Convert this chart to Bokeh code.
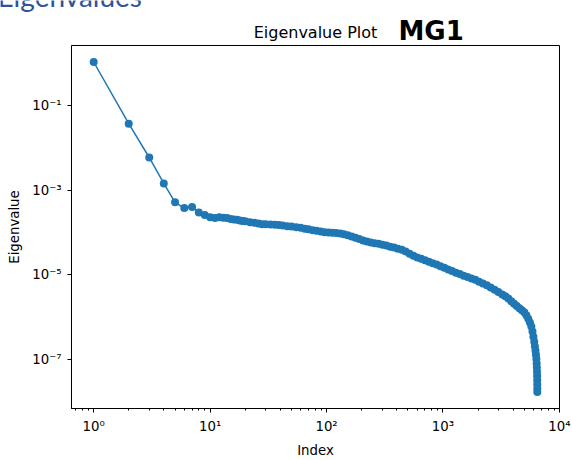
import numpy as np
from bokeh.plotting import figure
from bokeh.layouts import column
from bokeh.models import Range1d, FixedTicker, CustomJSTickFormatter
from bokeh.core.properties import value
from bokeh.embed import file_html
from bokeh.resources import INLINE

# ---- data ----
index = [1, 2, 3, 4, 5, 6, 7, 8, 9, 10, 11, 12, 13, 14, 15, 16, 17, 18, 19, 20,
         22, 24, 26, 28, 30, 33, 36, 39, 42, 46, 50, 55, 60, 65, 70, 76, 82, 89, 96,
         104, 112, 121, 131, 141, 152, 164, 177, 191, 206, 222, 240, 259, 280, 302,
         326, 352, 380, 410, 443, 478, 516, 557, 601, 649, 700, 756, 816, 881, 951,
         1027, 1108, 1196, 1291, 1394, 1504, 1624, 1753, 1892, 2042, 2204, 2379, 2568,
         2772, 2992, 3230, 3430, 3640, 3860, 4080, 4300, 4530, 4760, 4990, 5200, 5400,
         5580, 5740, 5870, 5980, 6080, 6160, 6230, 6290, 6340, 6375, 6400, 6420, 6435,
         6445, 6452, 6457, 6460]
eigenvalue = [1.10, 0.038, 0.0060, 0.00146, 5.2e-4, 3.8e-4, 4.0e-4, 3.0e-4, 2.6e-4,
              2.3e-4, 2.2e-4, 2.3e-4, 2.25e-4, 2.2e-4, 2.1e-4, 2.04e-4, 2.0e-4, 1.93e-4,
              1.88e-4, 1.84e-4, 1.76e-4, 1.70e-4, 1.64e-4, 1.58e-4, 1.57e-4, 1.55e-4,
              1.53e-4, 1.51e-4, 1.46e-4, 1.41e-4, 1.38e-4, 1.33e-4, 1.29e-4, 1.23e-4,
              1.19e-4, 1.135e-4, 1.10e-4, 1.06e-4, 1.02e-4, 1.0e-4, 9.9e-5, 9.8e-5,
              9.5e-5, 9.1e-5, 8.6e-5, 8.1e-5, 7.5e-5, 7.0e-5, 6.45e-5, 6.1e-5, 5.8e-5,
              5.6e-5, 5.4e-5, 5.1e-5, 4.9e-5, 4.6e-5, 4.4e-5, 4.1e-5, 3.9e-5, 3.55e-5,
              3.16e-5, 2.8e-5, 2.57e-5, 2.4e-5, 2.2e-5, 2.04e-5, 1.88e-5, 1.74e-5,
              1.58e-5, 1.46e-5, 1.33e-5, 1.22e-5, 1.12e-5, 1.035e-5, 9.5e-6, 8.8e-6,
              8.1e-6, 7.6e-6, 6.8e-6, 6.2e-6, 5.6e-6, 5.0e-6, 4.4e-6, 3.9e-6, 3.4e-6,
              3.1e-6, 2.72e-6, 2.34e-6, 2.04e-6, 1.82e-6, 1.6e-6, 1.43e-6, 1.29e-6,
              1.1e-6, 9.1e-7, 7.4e-7, 5.9e-7, 4.5e-7, 3.4e-7, 2.57e-7, 2.0e-7, 1.58e-7,
              1.26e-7, 1.0e-7, 7.9e-8, 6.3e-8, 5.0e-8, 4.0e-8, 3.16e-8, 2.5e-8, 2.0e-8,
              1.66e-8]

x_major_ticks = [1, 10, 100, 1000, 10000]
y_major_ticks = [1e-1, 1e-3, 1e-5, 1e-7]

title_text = "Eigenvalue Plot"
note_text = "MG1"
heading_text = "Eigenvalues"
x_label = "Index"
y_label = "Eigenvalue"

BLUE = "#1f77b4"
FONT = "DejaVu Sans"
W = 572
HEAD_H = 44
MAIN_H = 416

# ---- header strip (page heading, plot title, handwritten note) ----
head = figure(width=W, height=HEAD_H, x_range=Range1d(0, W), y_range=Range1d(HEAD_H, 0),
              output_backend="svg", toolbar_location=None, title=None,
              x_axis_location=None, y_axis_location=None, min_border=0)
head.frame_align = False
head.outline_line_color = None
head.xgrid.visible = False
head.ygrid.visible = False
head.background_fill_color = "white"
head.border_fill_color = "white"

head.text(x=[-3], y=[-5], text=[heading_text], text_font=value("Lato"),
          text_font_size=value("28px"), text_color="#2F5496",
          text_align="left", text_baseline="alphabetic")
head.text(x=[315], y=[32], text=[title_text], text_font=value(FONT),
          text_font_size=value("16px"), text_color="black",
          text_align="center", text_baseline="alphabetic")
head.text(x=[398], y=[30], text=[note_text], text_font=value(FONT),
          text_font_style="bold", text_font_size=value("26px"), text_color="black",
          text_align="left", text_baseline="alphabetic")

# ---- main log-log plot ----
lx = np.log10(index)
ly = np.log10(eigenvalue)
lxlo = lx.min() - 0.05 * (lx.max() - lx.min())
lxhi = lx.max() + 0.05 * (lx.max() - lx.min())
lylo = ly.min() - 0.05 * (ly.max() - ly.min())
lyhi = ly.max() + 0.05 * (ly.max() - ly.min())

p = figure(width=W, height=MAIN_H, x_axis_type="log", y_axis_type="log",
           x_range=Range1d(10 ** lxlo, 10 ** lxhi),
           y_range=Range1d(10 ** lylo, 10 ** lyhi),
           output_backend="svg", toolbar_location=None, title=None,
           min_border_left=71, min_border_right=13,
           min_border_top=1, min_border_bottom=51)
p.frame_align = False

p.background_fill_color = "white"
p.border_fill_color = "white"
p.outline_line_color = "black"
p.outline_line_width = 1
p.xgrid.visible = False
p.ygrid.visible = False

x_minor = [m * 10.0 ** k for k in range(-1, 4) for m in range(2, 10)]
p.xaxis.ticker = FixedTicker(ticks=x_major_ticks, minor_ticks=x_minor)
p.yaxis.ticker = FixedTicker(ticks=y_major_ticks, minor_ticks=[])

fmt = CustomJSTickFormatter(code="""
const e = Math.round(Math.log10(tick));
const m = {"-":"\u207b","0":"\u2070","1":"\u00b9","2":"\u00b2","3":"\u00b3","4":"\u2074",
           "5":"\u2075","6":"\u2076","7":"\u2077","8":"\u2078","9":"\u2079"};
return "10" + String(e).split("").map(c => m[c]).join("");
""")
for ax in (p.xaxis[0], p.yaxis[0]):
    ax.formatter = fmt
    ax.axis_line_color = "black"
    ax.axis_line_width = 1
    ax.major_tick_line_color = "black"
    ax.major_tick_out = 4
    ax.major_tick_in = 0
    ax.minor_tick_line_color = "black"
    ax.minor_tick_out = 2
    ax.minor_tick_in = 0
    ax.major_label_text_font = FONT
    ax.major_label_text_font_size = "13.3px"
    ax.major_label_text_color = "black"
    ax.axis_label_text_font = FONT
    ax.axis_label_text_font_size = "13.3px"
    ax.axis_label_text_font_style = "normal"
    ax.axis_label_text_color = "black"

p.xaxis.axis_label = x_label
p.yaxis.axis_label = y_label
p.xaxis.major_label_standoff = 6
p.yaxis.major_label_standoff = 6
p.xaxis.axis_label_standoff = 6
p.yaxis.axis_label_standoff = 7

p.line(index, eigenvalue, line_color=BLUE, line_width=1.5)
p.scatter(index, eigenvalue, marker="circle", size=8, fill_color=BLUE,
          line_color=BLUE, line_width=0)

layout = column(head, p, spacing=0)
open("out.html", "w").write(file_html(layout, INLINE))
